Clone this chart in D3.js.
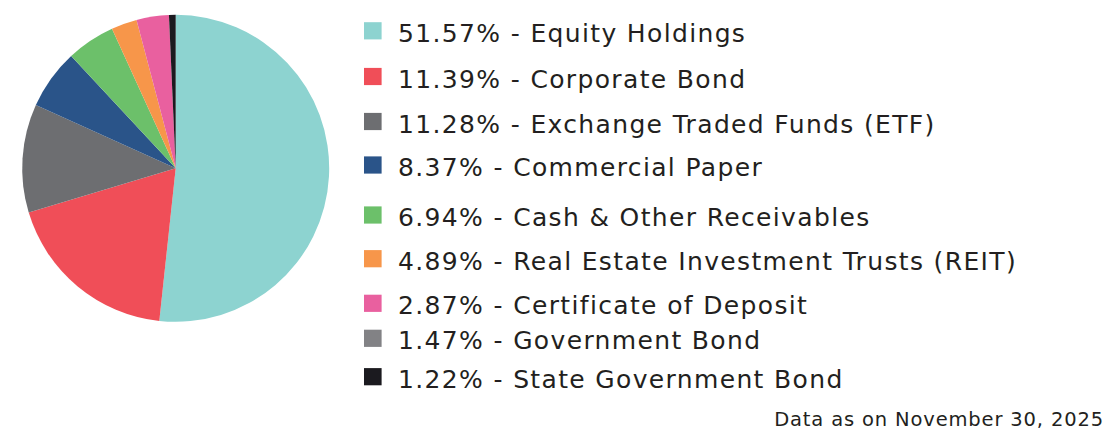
<!DOCTYPE html>
<html><head><meta charset="utf-8">
<script src="https://cdn.jsdelivr.net/npm/d3@7"></script>
<style>body{margin:0;background:#fff}svg{display:block}</style>
</head><body>
<svg id="c" width="1118" height="432"></svg>
<script>
// Legend data
const categories = ["Equity Holdings","Corporate Bond","Exchange Traded Funds (ETF)","Commercial Paper","Cash & Other Receivables","Real Estate Investment Trusts (REIT)","Certificate of Deposit","Government Bond","State Government Bond"];
const legendPct = ["51.57%","11.39%","11.28%","8.37%","6.94%","4.89%","2.87%","1.47%","1.22%"];
const colors = ["#8dd3d0","#f04e58","#6d6e71","#2a5489","#6cc06a","#f7964a","#e9609f","#828285","#1b1a1f"];
// Pie slice shares as drawn in the picture (clockwise from 12 o'clock)
const sliceCats = ["Equity Holdings","Corporate Bond","Exchange Traded Funds (ETF)","Commercial Paper","Cash & Other Receivables","Real Estate Investment Trusts (REIT)","Certificate of Deposit","State Government Bond"];
const sliceValues = [51.6,18.6,11.4,6.3,5.1,2.7,3.4,0.7];
const footnote = "Data as on November 30, 2025";

// layout
const cx = 175.7, cy = 168.3, R = 153.5;
const rowY = [30.8,76.5,121.5,165,215,258.7,303.3,338.3,376.7];
const FONT = "'DejaVu Sans', sans-serif";

const svg = d3.select("#c");
const color = d3.scaleOrdinal().domain(categories).range(colors);
const pie = d3.pie().sort(null).value(d => d.v);
const arc = d3.arc().innerRadius(0).outerRadius(R);
const sliceData = sliceCats.map((c,i)=>({c, v: sliceValues[i]}));
svg.append("g").attr("transform",`translate(${cx},${cy})`)
  .selectAll("path").data(pie(sliceData)).join("path")
  .attr("d", arc).attr("fill", d => color(d.data.c));

const lg = svg.append("g");
const rows = lg.selectAll("g").data(categories).join("g")
  .attr("transform",(d,i)=>`translate(364,${rowY[i]})`);
rows.append("rect").attr("x",0).attr("y",-8.6).attr("width",17.6).attr("height",17.2)
  .attr("fill", d => color(d));
rows.append("text").attr("x",34).attr("y",11)
  .attr("font-family",FONT).attr("font-size",25).attr("letter-spacing",1.35).attr("fill","#231f20")
  .text((d,i)=>`${legendPct[i]} - ${d}`);

svg.append("text").attr("x",1104).attr("y",426).attr("text-anchor","end")
  .attr("font-family",FONT).attr("font-size",19.5).attr("letter-spacing",0.85).attr("fill","#231f20")
  .text(footnote);
</script>
</body></html>
